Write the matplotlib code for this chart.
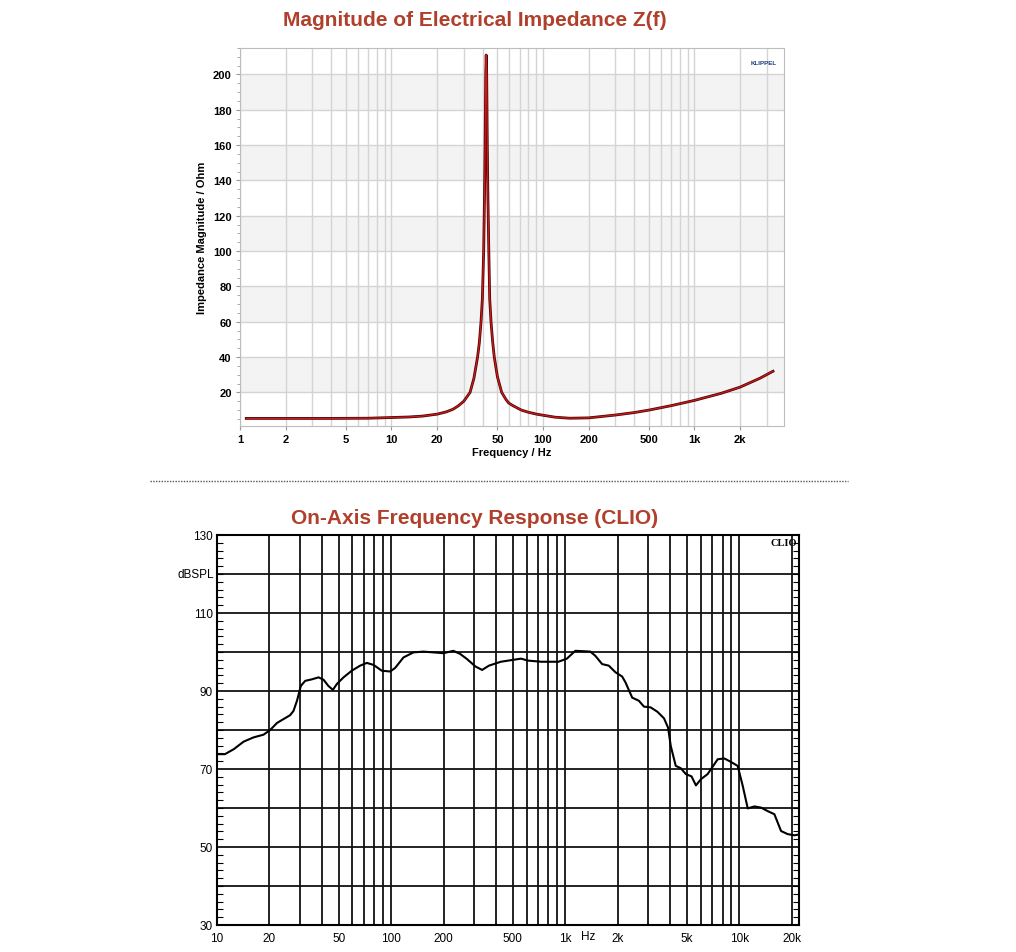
import numpy as np
import matplotlib.pyplot as plt
from matplotlib.ticker import FixedLocator, NullFormatter, MultipleLocator

# ===================================================================
# DATOS
# ===================================================================

# Impedancia eléctrica |Z(f)|
IMP_FREQ = [1.1, 2, 4, 7, 10, 13, 16, 20, 23, 25.5, 27.6, 30, 33, 35, 37,
            38, 39, 39.8, 40.6, 41.1, 41.5, 41.9, 42.2, 42.5, 42.9, 43.3,
            43.9, 44.5, 45.4, 46.5, 47.7, 50, 53.4, 57, 59.4, 63.7, 72, 80,
            90.8, 100, 120, 150, 200, 300, 400, 500, 700, 1000, 1500, 2000,
            2700, 3300]
IMP_OHM = [5.3, 5.3, 5.3, 5.4, 5.8, 6.1, 6.6, 7.7, 9.0, 10.5, 12.4, 15, 20,
           28, 40, 48, 60, 73, 100, 130, 160, 200, 211, 200, 160, 130, 100,
           73, 60, 49, 40, 29, 20, 16, 14, 12.4, 10, 8.8, 7.7, 7.1, 6.0, 5.4,
           5.6, 7.2, 8.6, 10, 12.5, 15.5, 19.5, 23, 28, 32]

# Respuesta en frecuencia en eje (CLIO)
SPL_FREQ = [10, 11.1, 12.5, 14.2, 16.2, 18.5, 20.2, 22.1, 24.1, 26.3, 27.5,
            28.8, 30.3, 32.1, 35.1, 38.3, 40.9, 43.6, 46.3, 48.8, 53.3, 59.4,
            66.4, 72.5, 79.2, 88.4, 98.7, 105.4, 117.7, 134.3, 153.2, 174.9,
            199.7, 227.8, 249.3, 272.6, 304.7, 333.1, 364.5, 426.5, 487.5,
            557.4, 609.5, 729.5, 913.9, 1022, 1142, 1276, 1394, 1490, 1628,
            1778, 1943, 2123, 2218, 2424, 2647, 2830, 3093, 3378, 3690, 3895,
            4036, 4311, 4608, 4926, 5312, 5630, 6020, 6574, 7025, 7510, 8200,
            8955, 9775, 10450, 11170, 12200, 13320, 14550, 15890, 17350,
            18950, 20690, 22000]
SPL_DB = [73.8, 73.8, 75.1, 77.0, 78.1, 78.8, 80.0, 81.8, 82.8, 83.8, 84.9,
          87.5, 91.3, 92.6, 93.0, 93.5, 92.9, 91.3, 90.3, 91.8, 93.5, 95.2,
          96.5, 97.2, 96.7, 95.2, 95.0, 95.9, 98.6, 99.9, 100.1, 99.9, 99.7,
          100.3, 99.5, 98.2, 96.3, 95.4, 96.5, 97.5, 97.9, 98.3, 97.8, 97.5,
          97.5, 98.3, 100.3, 100.2, 100.1, 99.0, 96.9, 96.5, 94.8, 93.7, 92.2,
          88.3, 87.5, 86.0, 85.8, 84.7, 83.0, 80.6, 75.9, 70.8, 70.2, 68.7,
          68.1, 65.8, 67.4, 68.7, 70.6, 72.5, 72.7, 71.8, 70.8, 65.7, 59.9,
          60.4, 60.1, 59.2, 58.4, 54.1, 53.3, 53.0, 53.2]

IMP_XTICKS = [1, 2, 5, 10, 20, 50, 100, 200, 500, 1000, 2000]
IMP_XLABELS = ["1", "2", "5", "10", "20", "50", "100", "200", "500", "1k", "2k"]
IMP_YTICKS = [20, 40, 60, 80, 100, 120, 140, 160, 180, 200]

SPL_XTICKS = [10, 20, 50, 100, 200, 500, 1000, 2000, 5000, 10000, 20000]
SPL_XLABELS = ["10", "20", "50", "100", "200", "500", "1k", "2k", "5k", "10k", "20k"]
SPL_YTICKS = [30, 50, 70, 90, 110, 130]

TITLE_COLOR = "#b0402c"
FONT = "Liberation Sans"


def log_grid_values(lo, hi):
    vals = []
    dec = 10 ** np.floor(np.log10(lo))
    while dec <= hi:
        for m in range(1, 10):
            v = m * dec
            if lo <= v <= hi:
                vals.append(v)
        dec *= 10
    return vals


fig = plt.figure(figsize=(10.16, 9.53), dpi=100)
plt.rcParams['font.family'] = [FONT, 'DejaVu Sans']

# ===================================================================
# IMPEDANCIA
# ===================================================================
ax1 = fig.add_axes([240 / 1016, 1 - 427 / 953, 544 / 1016, 378 / 953])
ax1.set_xscale("log")
ax1.set_xlim(1, 3900)
ax1.set_ylim(1, 215)

# bandas grises alternadas
for lo in IMP_YTICKS[::2]:
    ax1.axhspan(lo, lo + 20, color="#f3f3f3", zorder=0, lw=0)

for v in log_grid_values(1, 3900):
    ax1.axvline(v, color="#d4d4d4", lw=1.0, zorder=1)
for v in IMP_YTICKS:
    ax1.axhline(v, color="#d4d4d4", lw=1.0, zorder=1)

ax1.plot(IMP_FREQ, IMP_OHM, color="#4a0606", lw=2.0, zorder=3,
         solid_joinstyle="round")
ax1.plot(IMP_FREQ, IMP_OHM, color="#d01818", lw=0.9, zorder=4,
         solid_joinstyle="round")

ax1.xaxis.set_major_locator(FixedLocator(IMP_XTICKS))
ax1.set_xticklabels(IMP_XLABELS)
ax1.xaxis.set_minor_formatter(NullFormatter())
ax1.xaxis.set_minor_locator(FixedLocator([]))
ax1.set_yticks(IMP_YTICKS)
ax1.yaxis.set_minor_locator(MultipleLocator(5))
ax1.tick_params(axis="both", which="major", labelsize=8, length=3,
                color="#999999", pad=3)
ax1.tick_params(axis="y", which="minor", length=2, color="#999999")
for lab in ax1.get_xticklabels() + ax1.get_yticklabels():
    lab.set_fontweight("bold")
for s in ax1.spines.values():
    s.set_color("#bdbdbd")

ax1.set_xlabel("Frequency / Hz", fontsize=8, fontweight="bold", labelpad=2)
ax1.set_ylabel("Impedance Magnitude / Ohm", fontsize=8, fontweight="bold", labelpad=4)
ax1.text(0.962, 0.962, "KLIPPEL", transform=ax1.transAxes, ha="center",
         va="center", fontsize=4.5, fontweight="bold", color="#1b3b7a")

fig.text(475 / 1016, 1 - 20 / 953, "Magnitude of Electrical Impedance Z(f)",
         ha="center", va="center", fontsize=15, fontweight="bold",
         color=TITLE_COLOR)

# línea separadora punteada
fig.add_artist(plt.Line2D([150 / 1016, 848 / 1016], [1 - 482 / 953, 1 - 482 / 953],
                          color="#555555", lw=1.0, ls=(0, (1, 1))))

# ===================================================================
# RESPUESTA EN FRECUENCIA
# ===================================================================
ax2 = fig.add_axes([217 / 1016, 1 - 926 / 953, 582 / 1016, 390 / 953])
ax2.set_xscale("log")
ax2.set_xlim(10, 22000)
ax2.set_ylim(30, 130)

for v in log_grid_values(10, 20000):
    ax2.axvline(v, color="#111111", lw=1.3, zorder=1)
for v in range(40, 130, 10):
    ax2.axhline(v, color="#111111", lw=1.3, zorder=1)

ax2.plot(SPL_FREQ, SPL_DB, color="black", lw=1.5, zorder=3)

ax2.xaxis.set_major_locator(FixedLocator(SPL_XTICKS))
ax2.set_xticklabels(SPL_XLABELS)
ax2.xaxis.set_minor_locator(FixedLocator([]))
ax2.xaxis.set_minor_formatter(NullFormatter())
ax2.set_yticks(SPL_YTICKS)
ax2.yaxis.set_minor_locator(MultipleLocator(2))
ax2.tick_params(axis="x", which="major", length=0, labelsize=8.5, pad=5)
ax2.tick_params(axis="y", which="major", length=0, labelsize=8.5, pad=3)
ax2.tick_params(axis="y", which="minor", length=4, direction="in",
                left=True, right=True, width=0.8)
for s in ax2.spines.values():
    s.set_color("black")
    s.set_linewidth(1.5)

ax2.text(1360, -5 / 390, "Hz", ha="center", va="top", fontsize=8.5,
         transform=ax2.get_xaxis_transform())
ax2.text(-0.005, 120, "dBSPL", ha="right", va="center", fontsize=8.5,
         transform=ax2.get_yaxis_transform())
ax2.text(0.997, 0.993, "CLIO", ha="right", va="top", fontsize=7.5,
         fontweight="bold", family="Liberation Serif", transform=ax2.transAxes)

fig.text(475 / 1016, 1 - 518 / 953, "On-Axis Frequency Response (CLIO)",
         ha="center", va="center", fontsize=15, fontweight="bold",
         color=TITLE_COLOR)

fig.savefig("out.png", dpi=100, facecolor="white")
